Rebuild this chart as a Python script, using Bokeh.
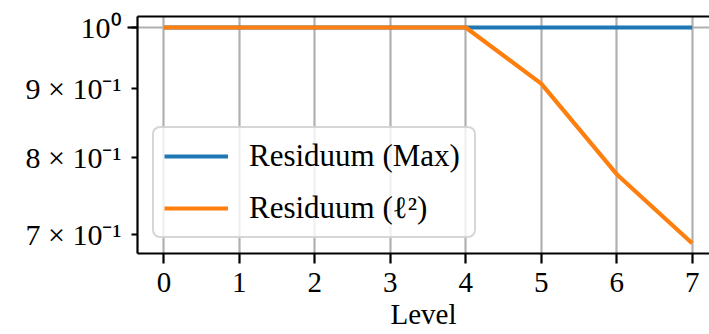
from bokeh.plotting import figure
from bokeh.models import FixedTicker, LinearAxis, Legend, LegendItem, Range1d
from bokeh.embed import file_html
from bokeh.resources import INLINE

# Residual per multigrid level
levels = [0, 1, 2, 3, 4, 5, 6, 7]
residuum_max = [1.0, 1.0, 1.0, 1.0, 1.0, 1.0, 1.0, 1.0]
residuum_l2 = [1.0, 1.0, 1.0, 1.0, 1.0, 0.908, 0.777, 0.690]

y_ticks = [0.7, 0.8, 0.9, 1.0]
y_tick_labels = ["7 × 10⁻¹", "8 × 10⁻¹", "9 × 10⁻¹", "10⁰"]

SERIF = "Liberation Serif"
BLACK = "#000000"
GRID = "#b0b0b0"

p = figure(
    width=709, height=334,
    y_axis_type="log",
    x_range=Range1d(-0.35, 7.23),
    y_range=Range1d(0.6779, 1.0191),
    output_backend="svg",
    toolbar_location=None,
    min_border_left=137, min_border_right=0,
    min_border_top=16, min_border_bottom=81,
)
p.outline_line_color = None
p.background_fill_color = "white"
p.border_fill_color = "white"

# x axis
xa = p.xaxis[0]
xa.ticker = FixedTicker(ticks=levels)
xa.axis_label = "Level"
xa.axis_label_text_font = SERIF
xa.axis_label_text_font_size = "29px"
xa.axis_label_text_font_style = "normal"
xa.axis_label_text_color = BLACK
xa.axis_label_standoff = 3
xa.major_label_text_font = SERIF
xa.major_label_text_font_size = "29px"
xa.major_label_text_color = BLACK
xa.major_label_standoff = 9
xa.major_tick_out = 10
xa.major_tick_in = 0
xa.minor_tick_line_color = None
xa.major_tick_line_width = 2.2
xa.axis_line_width = 2.2
xa.axis_line_color = BLACK
xa.major_tick_line_color = BLACK

# y axis (log): long tick at 10^0, short ticks at the others
ya = p.yaxis[0]
ya.ticker = FixedTicker(ticks=y_ticks, minor_ticks=[1.0])
ya.major_label_overrides = {t: s for t, s in zip(y_ticks, y_tick_labels)}
ya.major_label_text_font = SERIF
ya.major_label_text_font_size = "30px"
ya.major_label_text_color = BLACK
ya.major_label_standoff = 6
ya.major_tick_out = 6
ya.major_tick_in = 0
ya.minor_tick_out = 10
ya.minor_tick_in = 0
ya.major_tick_line_width = 2.2
ya.minor_tick_line_width = 2.2
ya.major_tick_line_color = BLACK
ya.minor_tick_line_color = BLACK
ya.axis_line_width = 2.2
ya.axis_line_color = BLACK

# top spine
top = LinearAxis(ticker=FixedTicker(ticks=[]), axis_line_width=2.2,
                 axis_line_color=BLACK, major_tick_line_color=None,
                 minor_tick_line_color=None)
p.add_layout(top, "above")

# grid
p.xgrid.ticker = FixedTicker(ticks=levels)
p.ygrid.ticker = FixedTicker(ticks=[1.0])
p.xgrid.grid_line_color = GRID
p.ygrid.grid_line_color = GRID
p.xgrid.grid_line_width = 2.2
p.ygrid.grid_line_width = 2.2

r_max = p.line(levels, residuum_max, line_color="#1f77b4", line_width=4.2)
r_l2 = p.line(levels, residuum_l2, line_color="#ff7f0e", line_width=4.2)

legend = Legend(
    items=[LegendItem(label="Residuum (Max)", renderers=[r_max]),
           LegendItem(label="Residuum (ℓ²)", renderers=[r_l2])],
    location=(15, 15),
    margin=0,
    padding=10,
    spacing=16,
    glyph_width=64,
    glyph_height=30,
    label_height=30,
    label_width=215,
    label_standoff=21,
    label_text_font=SERIF,
    label_text_font_size="31px",
    label_text_color=BLACK,
    label_text_baseline="middle",
    border_line_color="#cccccc",
    border_line_width=2.8,
    border_line_alpha=0.8,
    background_fill_color="white",
    background_fill_alpha=0.8,
)
if "border_radius" in Legend.properties():
    legend.border_radius = 8
p.add_layout(legend, "center")

open("out.html", "w").write(file_html(p, INLINE))
